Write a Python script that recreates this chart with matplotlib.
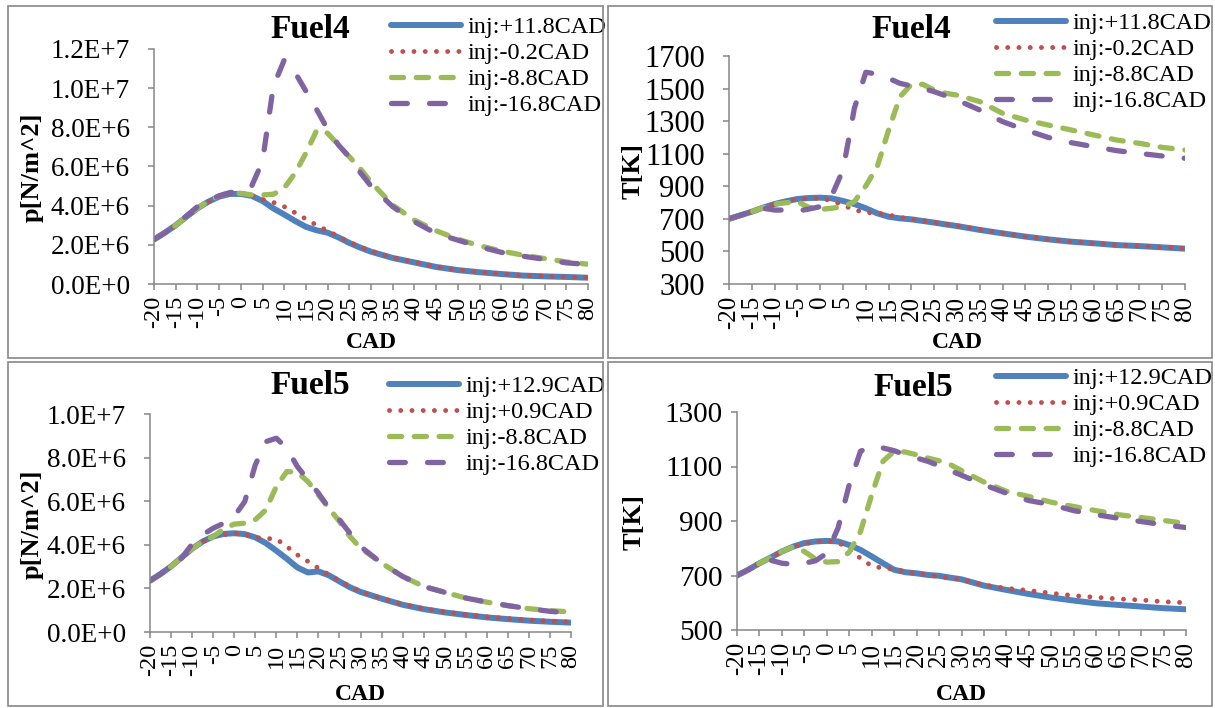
import math

import matplotlib
matplotlib.use("Agg")
import matplotlib.pyplot as plt
import numpy as np
from matplotlib.patches import Rectangle
from matplotlib.ticker import FuncFormatter

plt.rcParams["font.family"] = ["Liberation Serif", "DejaVu Serif"]

# crank angle grid (CAD)
cad = [-20, -17.5, -15, -12.5, -10, -7.5, -5, -2.5, 0, 2.5, 5, 7.5, 10, 12.5, 15,
       17.5, 20, 22.5, 25, 27.5, 30, 35, 40, 45, 50, 55, 60, 65, 70, 75, 80]
cad_ticks = list(range(-20, 81, 5))

# Fuel4 pressure [1E6 N/m^2]
f4_p_blue = [2.27, 2.62, 3.00, 3.44, 3.86, 4.20, 4.46, 4.60, 4.60, 4.50, 4.24, 3.86, 3.55, 3.22, 2.92,
             2.74, 2.62, 2.38, 2.10, 1.86, 1.65, 1.33, 1.10, 0.87, 0.71, 0.60, 0.51, 0.43, 0.39, 0.36, 0.32]
f4_p_red = [2.27, 2.62, 3.00, 3.44, 3.86, 4.20, 4.46, 4.60, 4.60, 4.52, 4.32, 4.17, 3.95, 3.64, 3.32,
            3.00, 2.72, 2.42, 2.14, 1.89, 1.68, 1.35, 1.12, 0.89, 0.72, 0.61, 0.52, 0.44, 0.40, 0.37, 0.33]
f4_p_green = [2.27, 2.62, 3.00, 3.44, 3.86, 4.22, 4.50, 4.67, 4.63, 4.55, 4.55, 4.58, 4.90, 5.66, 6.68,
              7.85, 7.70, 7.10, 6.50, 5.90, 5.20, 4.03, 3.26, 2.72, 2.29, 1.95, 1.69, 1.47, 1.30, 1.13, 1.01]
f4_p_purple = [2.27, 2.62, 3.00, 3.48, 3.95, 4.25, 4.50, 4.67, 4.72, 5.00, 6.26, 10.10, 11.43, 10.80, 9.85,
               8.90, 7.90, 7.10, 6.48, 5.70, 5.00, 3.95, 3.18, 2.58, 2.24, 1.90, 1.62, 1.42, 1.26, 1.08, 1.00]

# Fuel4 temperature [K]
f4_t_blue = [700, 722, 744, 769, 791, 808, 822, 828, 830, 826, 810, 791, 765, 734, 713,
             703, 697, 687, 677, 666, 656, 632, 611, 591, 574, 560, 550, 539, 533, 525, 517]
f4_t_red = [700, 722, 744, 769, 791, 808, 822, 826, 826, 812, 785, 754, 740, 734, 724,
            709, 699, 689, 679, 668, 658, 634, 612, 592, 575, 561, 551, 540, 534, 526, 518]
f4_t_green = [700, 722, 744, 769, 791, 799, 805, 771, 758, 765, 775, 806, 902, 1020, 1245,
              1450, 1526, 1526, 1491, 1471, 1460, 1420, 1348, 1307, 1276, 1246, 1215, 1184, 1164, 1139, 1123]
f4_t_purple = [700, 722, 744, 765, 754, 754, 748, 760, 775, 840, 1000, 1380, 1600, 1589, 1563,
               1532, 1516, 1501, 1481, 1456, 1430, 1368, 1297, 1246, 1200, 1168, 1143, 1119, 1102, 1086, 1072]

# Fuel5 pressure [1E6 N/m^2]
f5_p_blue = [2.35, 2.66, 3.01, 3.42, 3.82, 4.15, 4.38, 4.50, 4.53, 4.49, 4.34, 4.08, 3.73, 3.36, 2.96,
             2.73, 2.78, 2.60, 2.32, 2.05, 1.84, 1.53, 1.25, 1.05, 0.90, 0.78, 0.67, 0.59, 0.52, 0.47, 0.43]
f5_p_red = [2.35, 2.66, 3.01, 3.42, 3.82, 4.15, 4.38, 4.46, 4.53, 4.49, 4.34, 4.29, 4.27, 3.92, 3.54,
            3.24, 2.93, 2.63, 2.35, 2.09, 1.86, 1.55, 1.27, 1.07, 0.92, 0.80, 0.70, 0.62, 0.55, 0.50, 0.46]
f5_p_green = [2.35, 2.66, 3.01, 3.42, 3.82, 4.15, 4.38, 4.73, 4.95, 4.99, 5.15, 5.60, 6.67, 7.36, 7.33,
              6.90, 6.29, 5.68, 5.07, 4.38, 3.85, 3.16, 2.55, 2.09, 1.82, 1.56, 1.37, 1.21, 1.07, 0.98, 0.92]
f5_p_purple = [2.35, 2.66, 3.01, 3.39, 4.03, 4.46, 4.76, 4.99, 5.30, 5.98, 7.66, 8.73, 8.89, 8.43, 7.59,
               6.98, 6.37, 5.68, 5.15, 4.53, 3.92, 3.16, 2.55, 2.09, 1.82, 1.56, 1.37, 1.21, 1.07, 0.95, 0.87]

# Fuel5 temperature [K]
f5_t_blue = [700, 721, 745, 766, 788, 806, 819, 825, 827, 825, 812, 794, 770, 745, 721,
             712, 708, 702, 699, 692, 686, 663, 647, 632, 619, 608, 598, 592, 586, 580, 576]
f5_t_red = [700, 721, 745, 766, 788, 806, 816, 825, 827, 821, 798, 763, 735, 727, 723,
            714, 707, 702, 696, 690, 686, 665, 653, 645, 635, 626, 620, 614, 610, 604, 600]
f5_t_green = [700, 721, 745, 766, 788, 806, 788, 761, 749, 751, 786, 861, 996, 1119, 1156,
              1153, 1143, 1131, 1121, 1107, 1085, 1043, 1009, 990, 969, 953, 938, 923, 913, 902, 891]
f5_t_purple = [700, 721, 745, 756, 745, 741, 745, 754, 782, 874, 1033, 1156, 1174, 1168, 1158,
               1143, 1131, 1119, 1103, 1085, 1068, 1033, 1002, 975, 960, 938, 923, 910, 898, 886, 876]

f4_labels = ["inj:+11.8CAD", "inj:-0.2CAD", "inj:-8.8CAD", "inj:-16.8CAD"]
f5_labels = ["inj:+12.9CAD", "inj:+0.9CAD", "inj:-8.8CAD", "inj:-16.8CAD"]

W, H = 1215, 708
GRAY = "#868686"
STYLES = [
    dict(color="#4F81BD", lw=4.3, ls="-", solid_capstyle="round", solid_joinstyle="round"),
    dict(color="#C0504D", lw=3.5, ls=(0, (0.01, 2.3)), dash_capstyle="round"),
    dict(color="#9BBB59", lw=3.8, ls=(0, (2.3, 2.4)), dash_capstyle="round"),
    dict(color="#8064A2", lw=3.8, ls=(0, (3.0, 4.2)), dash_capstyle="round"),
]


def px_rect(l, t, r, b):
    return [l / W, 1 - b / H, (r - l) / W, (b - t) / H]


def fx(x):
    return x / W


def fy(y):
    return 1 - y / H


def sci(v, pos):
    if abs(v) < 1e-9:
        return "0.0E+0"
    e = int(math.floor(math.log10(abs(v)) + 1e-9))
    return f"{v / 10 ** e:.1f}E+{e}"


panels = [
    dict(rect=(154, 49, 588, 284), scale=1e6, series=[f4_p_blue, f4_p_red, f4_p_green, f4_p_purple],
         labels=f4_labels, ylim=(0, 1.2e7), ystep=2e6, fmt=FuncFormatter(sci), ytick_fs=19.5, ypad=13,
         xtick_fs=17.5, title="Fuel4", title_xy=(310, 30), ylabel="p[N/m^2]", ylabel_xy=(32, 167),
         xlabel_xy=(371, 342), leg_xy=(391, 24)),
    dict(rect=(729, 56, 1185, 284), scale=1, series=[f4_t_blue, f4_t_red, f4_t_green, f4_t_purple],
         labels=f4_labels, ylim=(300, 1700), ystep=200, fmt=None, ytick_fs=22, ypad=13,
         xtick_fs=18, title="Fuel4", title_xy=(911, 29), ylabel="T[K]", ylabel_xy=(633, 171),
         xlabel_xy=(957, 342), leg_xy=(996, 20)),
    dict(rect=(150, 414, 571, 632), scale=1e6, series=[f5_p_blue, f5_p_red, f5_p_green, f5_p_purple],
         labels=f5_labels, ylim=(0, 1.0e7), ystep=2e6, fmt=FuncFormatter(sci), ytick_fs=19.5, ypad=13,
         xtick_fs=17.5, title="Fuel5", title_xy=(310, 386), ylabel="p[N/m^2]", ylabel_xy=(32, 524),
         xlabel_xy=(360, 695), leg_xy=(389, 383)),
    dict(rect=(737, 412, 1186, 630), scale=1, series=[f5_t_blue, f5_t_red, f5_t_green, f5_t_purple],
         labels=f5_labels, ylim=(500, 1300), ystep=200, fmt=None, ytick_fs=21, ypad=6,
         xtick_fs=18, title="Fuel5", title_xy=(913, 387), ylabel="T[K]", ylabel_xy=(634, 522),
         xlabel_xy=(961, 695), leg_xy=(996, 375)),
]

fig = plt.figure(figsize=(W / 100, H / 100), dpi=100)

# chart frames
for l, t, r, b in [(8, 6, 603, 358), (608, 6, 1212, 358), (8, 362, 603, 706), (608, 362, 1212, 706)]:
    fig.add_artist(Rectangle((fx(l), fy(b)), (r - l) / W, (b - t) / H, transform=fig.transFigure,
                             fill=False, edgecolor=GRAY, lw=1.2))

for p in panels:
    ax = fig.add_axes(px_rect(*p["rect"]))
    handles = []
    for vals, st in zip(p["series"], STYLES):
        (ln,) = ax.plot(cad, [v * p["scale"] for v in vals], **st)
        handles.append(ln)

    lo, hi = p["ylim"]
    ax.set_xlim(-20, 80)
    ax.set_ylim(lo, hi)
    ax.set_xticks(cad_ticks)
    ax.set_xticklabels([str(t) for t in cad_ticks], rotation=90, fontsize=p["xtick_fs"])
    ax.set_yticks(np.arange(lo, hi + p["ystep"] / 2, p["ystep"]))
    if p["fmt"] is not None:
        ax.yaxis.set_major_formatter(p["fmt"])
    ax.tick_params(axis="y", labelsize=p["ytick_fs"], pad=p["ypad"], length=4.5, width=1.1, color=GRAY)
    ax.tick_params(axis="x", pad=4, length=4.5, width=1.1, color=GRAY)
    for s in ("top", "right"):
        ax.spines[s].set_visible(False)
    for s in ("left", "bottom"):
        ax.spines[s].set_color(GRAY)
        ax.spines[s].set_linewidth(1.1)

    fig.text(fx(p["title_xy"][0]), fy(p["title_xy"][1]), p["title"], ha="center", va="center",
             fontsize=24, fontweight="bold")
    fig.text(fx(p["ylabel_xy"][0]), fy(p["ylabel_xy"][1]), p["ylabel"], ha="center", va="center",
             rotation=90, fontsize=19, fontweight="bold")
    fig.text(fx(p["xlabel_xy"][0]), fy(p["xlabel_xy"][1]), "CAD", ha="center", va="center",
             fontsize=17, fontweight="bold")

    lx, ly = p["leg_xy"]
    ax.legend(handles, p["labels"], loc="upper left", bbox_to_anchor=(fx(lx), fy(ly - 8)),
              bbox_transform=fig.transFigure, frameon=False, borderpad=0, borderaxespad=0,
              fontsize=17.5, handlelength=2.9, handletextpad=0.25, labelspacing=0.17)

fig.savefig("out.png", dpi=100)
